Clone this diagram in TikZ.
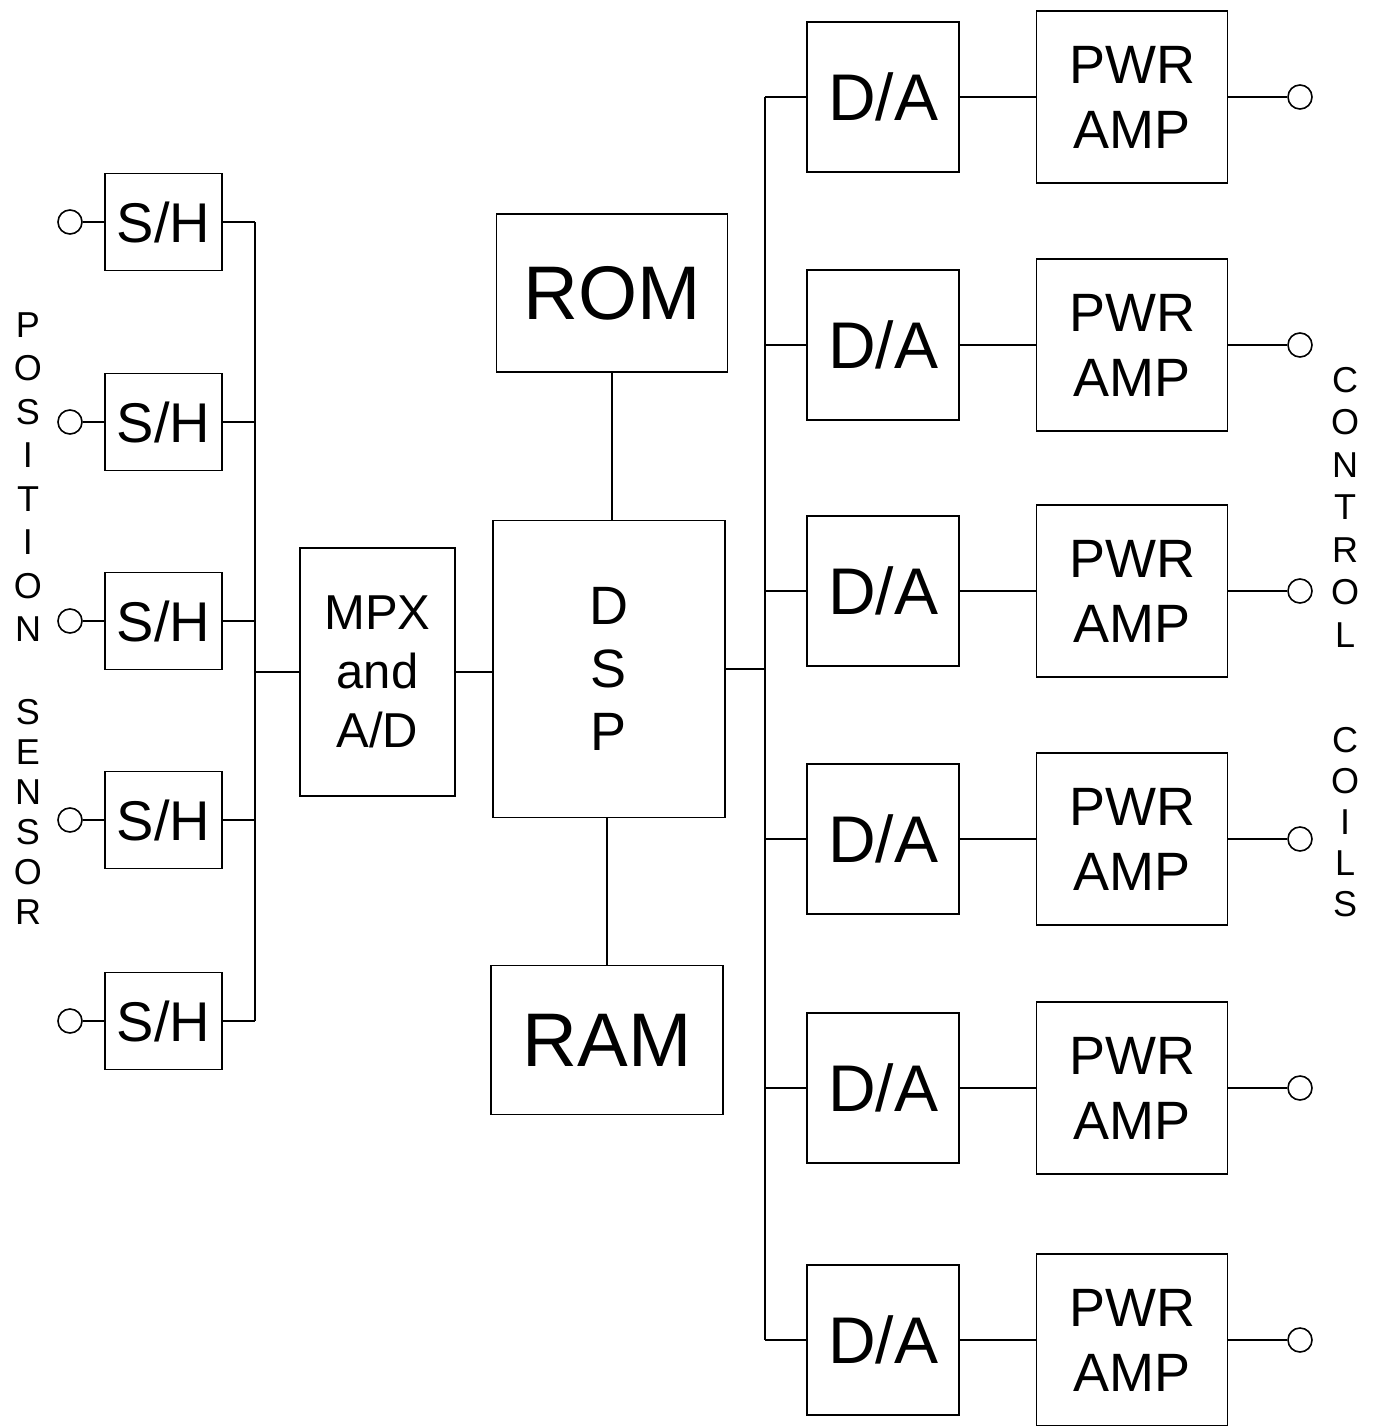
\documentclass[tikz,border=0pt]{standalone}
\usepackage{fontspec}
\setmainfont{Liberation Sans}
\begin{document}
\begin{tikzpicture}[x=1pt,y=-1pt,line width=1.6pt,
  blk/.style={draw,rectangle,inner sep=0pt,align=center,line width=1.6pt},
  port/.style={draw,circle,minimum size=24pt,inner sep=0pt,line width=1.6pt},
  shbox/.style={blk,minimum width=117pt,minimum height=97pt,font=\fontsize{56}{60}\selectfont},
  dabox/.style={blk,minimum width=152pt,minimum height=150pt,font=\fontsize{66}{70}\selectfont},
  pwrbox/.style={blk,minimum width=191pt,minimum height=172pt,font=\fontsize{54}{65}\selectfont},
  vl/.style={inner sep=0pt,font=\fontsize{36}{40}\selectfont}]
\useasboundingbox (0,0) rectangle (1383,1426);

% sample and hold inputs
\foreach \y [count=\i] in {222,422,621,820,1021} {
  \node[shbox] (sh\i) at (163.5,\y) {S/H};
  \node[port] (in\i) at (70,\y) {};
  \coordinate (lb\i) at (255,\y);
  \draw (in\i) -- (sh\i);
  \draw (sh\i.east) -- (lb\i);
}
\draw (lb1) -- (lb5);

% MPX and DSP
\node[blk,minimum width=155pt,minimum height=248pt,font=\fontsize{49}{59}\selectfont] (mpx) at (377.5,672) {MPX\\and\\A/D};
\node[blk,minimum width=232pt,minimum height=297pt,font=\fontsize{54}{63}\selectfont] (dsp) at (609,669) {D\\S\\P};
\node[blk,minimum width=231pt,minimum height=158pt,font=\fontsize{76}{80}\selectfont] (rom) at (612,293) {ROM};
\node[blk,minimum width=232pt,minimum height=149pt,font=\fontsize{76}{80}\selectfont] (ram) at (607,1040) {RAM};
\coordinate (lbm) at (255,672);
\draw (lbm) -- (mpx.west);
\draw (mpx.east) -- (mpx.east -| dsp.west);
\draw (rom.south) -- (rom.south |- dsp.north);
\draw (ram.north |- dsp.south) -- (ram.north);

% outputs
\coordinate (rbm) at (765,669);
\draw (dsp.east) -- (rbm);
\foreach \y [count=\i] in {97,345,591,839,1088,1340} {
  \coordinate (rb\i) at (765,\y);
  \node[dabox] (da\i) at (883,\y) {D/A};
  \node[pwrbox] (pa\i) at (1132,\y) {PWR\\AMP};
  \node[port] (out\i) at (1300,\y) {};
  \draw (rb\i) -- (da\i);
  \draw (da\i) -- (pa\i);
  \draw (pa\i) -- (out\i);
}
\draw (rb1) -- (rb6);

% vertical labels
\foreach \c [count=\i] in {P,O,S,I,T,I,O,N}
  \node[vl] (ps\i) at (28,{325+43.5*(\i-1)}) {\c};
\foreach \c [count=\i] in {S,E,N,S,O,R}
  \node[vl] (se\i) at (28,{712+40*(\i-1)}) {\c};
\foreach \c [count=\i] in {C,O,N,T,R,O,L}
  \node[vl] (ct\i) at (1345,{380+42.5*(\i-1)}) {\c};
\foreach \c [count=\i] in {C,O,I,L,S}
  \node[vl] (co\i) at (1345,{740+41*(\i-1)}) {\c};
\end{tikzpicture}
\end{document}
